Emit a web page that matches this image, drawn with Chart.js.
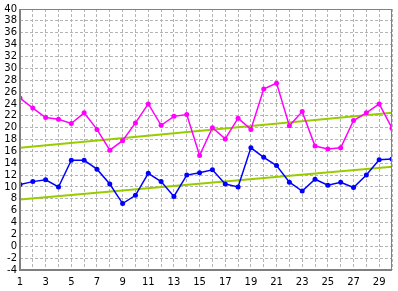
<!DOCTYPE html>
<html>
<head>
<meta charset="utf-8">
<script src="https://cdn.jsdelivr.net/npm/chart.js"></script>
<style>
  html, body { margin: 0; padding: 0; background: #fff; }
  #wrap { width: 398px; height: 291px; }
</style>
</head>
<body>
<div id="wrap"><canvas id="chart"></canvas></div>
<script>
// 日付 (1日〜30日)
const days = [1,2,3,4,5,6,7,8,9,10,11,12,13,14,15,16,17,18,19,20,21,22,23,24,25,26,27,28,29,30];
// 上の系列 (マゼンタ)
const highValues = [25.0,23.3,21.7,21.4,20.7,22.5,19.7,16.2,17.8,20.8,24.0,20.4,21.9,22.2,15.3,20.0,18.1,21.6,19.7,26.5,27.5,20.3,22.7,16.9,16.4,16.6,21.2,22.5,24.0,19.9];
// 下の系列 (青)
const lowValues = [10.4,10.9,11.2,10.0,14.5,14.5,13.0,10.5,7.2,8.6,12.3,10.9,8.4,12.0,12.4,12.9,10.5,10.0,16.6,15.0,13.6,10.8,9.3,11.3,10.3,10.8,9.9,12.0,14.6,14.7];
// 傾向線の両端 (1日, 30日)
const highTrend = [16.6, 22.5];
const lowTrend = [7.9, 13.4];
// 縦軸の目盛
const yMin = -4, yMax = 40, yStep = 2;

const toPoints = vals => vals.map((v, i) => ({ x: days[i], y: v }));
const trendPoints = t => [{ x: days[0], y: t[0] }, { x: days[days.length - 1], y: t[1] }];

// 枠線を描くプラグイン
const frame = {
    id: 'frame',
    afterDraw(chart) {
        const a = chart.chartArea;
        const ctx = chart.ctx;
        ctx.save();
        ctx.strokeStyle = '#808080';
        ctx.lineWidth = 1;
        ctx.strokeRect(a.left + 0.5, a.top + 0.5, a.right - a.left - 1, a.bottom - a.top - 1);
        ctx.lineWidth = 2;
        ctx.beginPath();
        ctx.moveTo(a.left, a.top);
        ctx.lineTo(a.left, a.bottom);
        ctx.lineTo(a.right, a.bottom);
        ctx.stroke();
        ctx.restore();
    }
};

const ctx = document.getElementById('chart').getContext('2d');
new Chart(ctx, {
    type: 'line',
    data: {
        datasets: [
            { data: trendPoints(highTrend), borderColor: '#99cc00', borderWidth: 2, pointRadius: 0, order: 3 },
            { data: trendPoints(lowTrend), borderColor: '#99cc00', borderWidth: 2, pointRadius: 0, order: 4 },
            { data: toPoints(highValues), borderColor: '#ff00ff', backgroundColor: '#ff00ff', borderWidth: 1.5, pointRadius: 2.5, pointBorderWidth: 0, order: 1 },
            { data: toPoints(lowValues), borderColor: '#0000ff', backgroundColor: '#0000ff', borderWidth: 1.5, pointRadius: 2.5, pointBorderWidth: 0, order: 2 }
        ]
    },
    options: {
        responsive: true,
        maintainAspectRatio: false,
        animation: false,
        layout: { padding: { top: 8, right: 6, left: 0, bottom: 0 } },
        plugins: { legend: { display: false }, tooltip: { enabled: false } },
        elements: { line: { tension: 0 } },
        scales: {
            x: {
                type: 'linear',
                min: 1,
                max: 30,
                afterFit(scale) { scale.height = 21; },
                ticks: {
                    stepSize: 1,
                    autoSkip: false,
                    maxRotation: 0,
                    padding: 6,
                    color: '#000',
                    font: { family: 'DejaVu Sans', size: 10 },
                    callback: v => (v % 2 === 1 ? v : '')
                },
                grid: { color: '#b4b4b4', tickLength: 0, drawTicks: false },
                border: { dash: [3, 2], display: false }
            },
            y: {
                min: yMin,
                max: yMax,
                afterFit(scale) { scale.width = 20; },
                ticks: {
                    stepSize: yStep,
                    autoSkip: false,
                    padding: 3,
                    color: '#000',
                    font: { family: 'DejaVu Sans', size: 10 }
                },
                grid: { color: '#b4b4b4', drawTicks: false },
                border: { dash: [3, 2], display: false }
            }
        }
    },
    plugins: [frame]
});
</script>
</body>
</html>
